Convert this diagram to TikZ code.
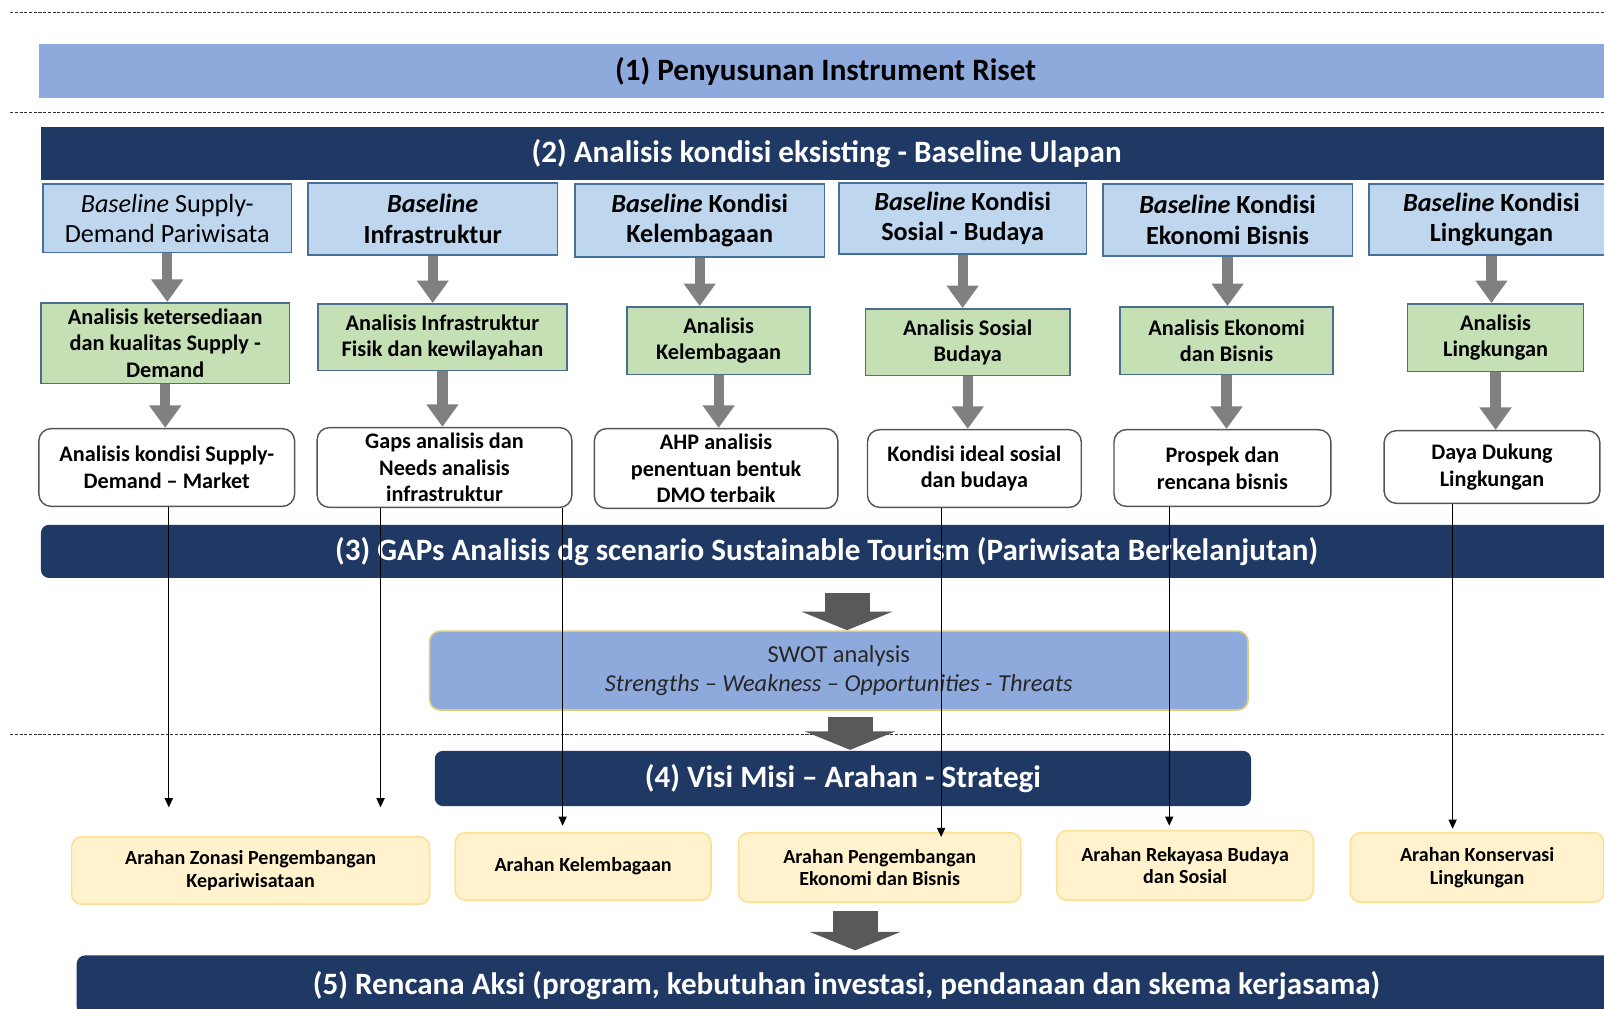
\documentclass[tikz,border=0pt]{standalone}
\usepackage{fontspec}
\setmainfont{Carlito}
\usetikzlibrary{arrows.meta, positioning, calc}
\definecolor{navy}{RGB}{31,56,100}
\definecolor{stepblue}{RGB}{142,169,219}
\definecolor{basefill}{RGB}{190,214,238}
\definecolor{baseedge}{RGB}{70,112,155}
\definecolor{greenfill}{RGB}{197,224,180}
\definecolor{greenedge}{RGB}{75,110,140}
\definecolor{resedge}{RGB}{85,85,85}
\definecolor{swotedge}{RGB}{225,205,120}
\definecolor{arahfill}{RGB}{255,242,204}
\definecolor{arahedge}{RGB}{250,225,150}
\definecolor{flowgray}{RGB}{128,128,128}
\definecolor{blockgray}{RGB}{89,89,89}
\definecolor{dashgray}{RGB}{50,50,50}

\begin{document}
\begin{tikzpicture}[
        x=0.5pt, y=-0.5pt,
        bar/.style={rectangle, fill=navy, text=white, font=\fontsize{15.2}{18}\selectfont\bfseries},
        base/.style={rectangle, draw=baseedge, fill=basefill, line width=0.8pt, align=center, inner sep=1pt, font=\fontsize{12.8}{15}\selectfont\bfseries},
        anal/.style={rectangle, draw=greenedge, fill=greenfill, line width=0.8pt, align=center, inner sep=1pt, font=\fontsize{10.9}{12.8}\selectfont\bfseries},
        res/.style={rectangle, draw=resedge, fill=white, rounded corners=6pt, line width=0.7pt, align=center, inner sep=1pt, font=\fontsize{10.85}{13}\selectfont\bfseries},
        arah/.style={rectangle, draw=arahedge, fill=arahfill, rounded corners=5pt, line width=0.8pt, align=center, inner sep=1pt, font=\fontsize{9.8}{11}\selectfont\bfseries},
        flow/.style={-{Triangle[length=11pt, width=15pt]}, line width=5pt, flowgray},
        bigarrow/.style={-{Triangle[length=9pt, width=44pt]}, line width=22pt, blockgray},
        link/.style={-{Triangle[length=4.5pt, width=4pt]}, line width=0.6pt, black},
        sep/.style={dashgray, line width=0.75pt, dash pattern=on 1.5pt off 0.8pt}
    ]
        \useasboundingbox (0,0) rectangle (1568,986);
        \clip (0,0) rectangle (1568,986);

        % Separators
        \draw[sep] (10,12) -- (1568,12);
        \draw[sep] (10,110) -- (1568,110);
        \draw[sep] (10,718) -- (1568,718);

        % Stage headers
        \node[bar, fill=stepblue, text=black, minimum width=769pt, minimum height=26.5pt] (instr) at (807,69.5) {(1) Penyusunan Instrument Riset};
        \node[bar, minimum width=768pt, minimum height=26pt] (eksis) at (808,150) {(2) Analisis kondisi eksisting - Baseline Ulapan};

        % Baselines
        \node[base, font=\fontsize{12.8}{15}\selectfont, minimum width=121.5pt, minimum height=33.5pt] (base1) at (163.5,213.5) {\textit{Baseline} Supply-\\Demand Pariwisata};
        \node[base, minimum width=122pt, minimum height=35pt] (base2) at (423,214) {\textit{Baseline}\\Infrastruktur};
        \node[base, minimum width=122pt, minimum height=35.5pt] (base3) at (684,215.5) {\textit{Baseline} Kondisi\\Kelembagaan};
        \node[base, minimum width=121pt, minimum height=34.5pt] (base4) at (941,213.5) {\textit{Baseline} Kondisi\\Sosial - Budaya};
        \node[base, minimum width=122pt, minimum height=35pt] (base5) at (1200,215) {\textit{Baseline} Kondisi\\Ekonomi Bisnis};
        \node[base, minimum width=120pt, minimum height=34.5pt] (base6) at (1458,214.5) {\textit{Baseline} Kondisi\\Lingkungan};

        % Analyses
        \node[anal, minimum width=121.5pt, minimum height=39.5pt] (anal1) at (161.5,335.5) {Analisis ketersediaan\\dan kualitas Supply -\\Demand};
        \node[anal, minimum width=121.5pt, minimum height=32.5pt] (anal2) at (432.5,329.5) {Analisis Infrastruktur\\Fisik dan kewilayahan};
        \node[anal, minimum width=89.5pt, minimum height=33pt] (anal3) at (702.5,333) {Analisis\\Kelembagaan};
        \node[anal, minimum width=100pt, minimum height=32.5pt] (anal4) at (946,334.5) {Analisis Sosial\\Budaya};
        \node[anal, minimum width=104pt, minimum height=33pt] (anal5) at (1199,333) {Analisis Ekonomi\\dan Bisnis};
        \node[anal, minimum width=86pt, minimum height=33pt] (anal6) at (1462,330) {Analisis\\Lingkungan};

        % Results
        \node[res, minimum width=125pt, minimum height=38pt] (res1) at (163,457) {Analisis kondisi Supply-\\Demand -- Market};
        \node[res, minimum width=124.5pt, minimum height=39pt] (res2) at (434.5,457) {Gaps analisis dan\\Needs analisis\\infrastruktur};
        \node[res, minimum width=119pt, minimum height=39pt] (res3) at (700,458) {AHP analisis\\penentuan bentuk\\DMO terbaik};
        \node[res, minimum width=104.5pt, minimum height=38pt] (res4) at (952.5,458) {Kondisi ideal sosial\\dan budaya};
        \node[res, minimum width=106pt, minimum height=37.5pt] (res5) at (1195,457.5) {Prospek dan\\rencana bisnis};
        \node[res, minimum width=105.5pt, minimum height=35.5pt] (res6) at (1458.5,456.5) {Daya Dukung\\Lingkungan};

        % Gray arrows
        \foreach \i in {1,...,6} {
            \draw[flow] (base\i.south) -- (base\i.south |- anal\i.north);
            \draw[flow] (anal\i.south) -- (anal\i.south |- res\i.north);
        }

        % Gaps, SWOT, strategy
        \node[bar, rounded corners=4pt, minimum width=768pt, minimum height=26pt] (gaps) at (808,539) {(3) GAPs Analisis dg scenario Sustainable Tourism (Pariwisata Berkelanjutan)};
        \node[rectangle, draw=swotedge, fill=stepblue, rounded corners=5pt, line width=0.8pt, align=center, minimum width=400pt, minimum height=38.5pt, font=\fontsize{11.9}{14.5}\selectfont, text=black!85] (swot) at (820,655.5) {SWOT analysis\\\textit{Strengths -- Weakness -- Opportunities - Threats}};
        \node[bar, rounded corners=4pt, minimum width=399pt, minimum height=27pt] (visi) at (824,761) {(4) Visi Misi -- Arahan - Strategi};

        % Directions
        \node[arah, minimum width=175pt, minimum height=33pt] (arah1) at (245,851) {Arahan Zonasi Pengembangan\\Kepariwisataan};
        \node[arah, minimum width=125pt, minimum height=33pt] (arah2) at (570,847) {Arahan Kelembagaan};
        \node[arah, minimum width=138pt, minimum height=34pt] (arah3) at (860,848) {Arahan Pengembangan\\Ekonomi dan Bisnis};
        \node[arah, minimum width=125.5pt, minimum height=34pt] (arah4) at (1158.5,846) {Arahan Rekayasa Budaya\\dan Sosial};
        \node[arah, minimum width=124pt, minimum height=34pt] (arah5) at (1444,848) {Arahan Konservasi\\Lingkungan};

        % Action plan
        \node[bar, rounded corners=4pt, minimum width=752.5pt, minimum height=29pt] (aksi) at (827.5,963) {(5) Rencana Aksi (program, kebutuhan investasi, pendanaan dan skema kerjasama)};

        % Block arrows
        \coordinate (b1s) at (828,580);
        \coordinate (b1e) at (828,616);
        \coordinate (b2s) at (831,701);
        \coordinate (b2e) at (831,733);
        \coordinate (b3s) at (836,891);
        \coordinate (b3e) at (836,929);
        \draw[bigarrow] (b1s) -- (b1e);
        \draw[bigarrow] (b2s) -- (b2e);
        \draw[bigarrow] (b3s) -- (b3e);

        % Thin links
        \draw[link, shorten >=14pt] ([xshift=1pt]res1.south) -- ([xshift=1pt]res1.south |- arah1.north);
        \draw[link, shorten >=14pt] ([xshift=-31.25pt]res2.south) -- ([xshift=-31.25pt]res2.south |- arah1.north);
        \draw[link, shorten >=3pt] ([xshift=57.75pt]res2.south) -- ([xshift=57.75pt]res2.south |- arah2.north);
        \draw[link, shorten >=-2.5pt] ([xshift=-16.25pt]res4.south) -- ([xshift=-16.25pt]res4.south |- arah3.north);
        \draw[link, shorten >=2pt] ([xshift=-26pt]res5.south) -- ([xshift=-26pt]res5.south |- arah4.north);
        \draw[link, shorten >=1.5pt] ([xshift=-19.25pt]res6.south) -- ([xshift=-19.25pt]res6.south |- arah5.north);
    \end{tikzpicture}
\end{document}
